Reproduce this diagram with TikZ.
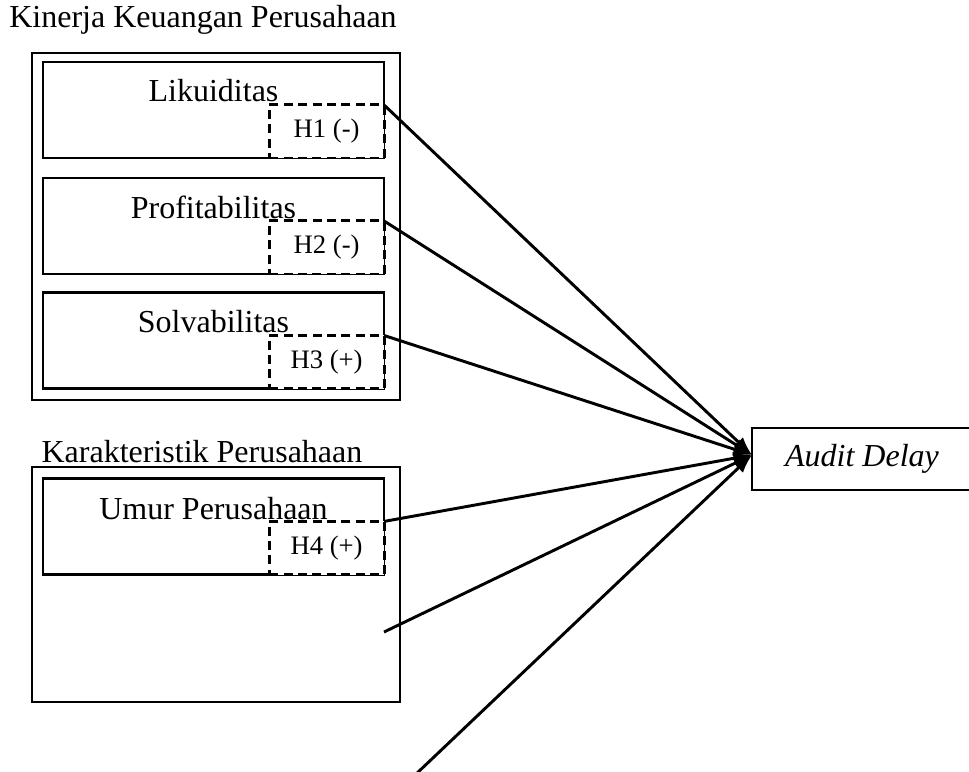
\documentclass[tikz,border=0pt]{standalone}
\usepackage{fontspec}
\setmainfont{Liberation Serif}
\usetikzlibrary{calc, positioning, arrows.meta}

\tikzset{
    groupbox/.style={draw, line width=0.7pt, inner sep=0pt, outer sep=0pt, minimum width=138pt},
    varbox/.style={draw, line width=1pt, inner sep=0pt, outer sep=0pt, minimum width=127.9pt, minimum height=36pt},
    hypbox/.style={draw, fill=white, line width=1.1pt, dash pattern=on 3.4pt off 2pt, inner sep=0pt, outer sep=0pt,
        minimum width=43.1pt, minimum height=19.9pt, anchor=south east, font=\fontsize{10}{12}\selectfont},
    link/.style={line width=1.1pt, -{Latex[length=7pt, width=5pt]}}
}

\begin{document}
\begin{tikzpicture}[x=0.375pt, y=-0.375pt, font=\fontsize{12}{14}\selectfont]
            \useasboundingbox (0, 0) rectangle (969, 772);
            % kinerja keuangan
            \node (kinerja) at (203, 20) {Kinerja Keuangan Perusahaan};
            \node[groupbox, minimum height=130.1pt] (kgroup) at (216, 226.5) {};
            \node[varbox] (liku) at (213.5, 110) {};
            \node[varbox] (profit) at (213.5, 226) {};
            \node[varbox] (solva) at (213.5, 340.5) {};
            \node[hypbox] (h1) at (liku.south east) {H1 (-)};
            \node[hypbox] (h2) at (profit.south east) {H2 (-)};
            \node[hypbox] (h3) at (solva.south east) {H3 (+)};
            \node (likutxt) at ($(liku.north) + (0, 29)$) {Likuiditas};
            \node (profittxt) at ($(profit.north) + (0, 29)$) {Profitabilitas};
            \node (solvatxt) at ($(solva.north) + (0, 29)$) {Solvabilitas};
            % karakteristik
            \node (karakter) at (202, 452) {Karakteristik Perusahaan};
            \node[groupbox, minimum height=88.1pt] (cgroup) at (216, 584.5) {};
            \node[varbox] (umur) at (213.5, 526.5) {};
            \node[hypbox] (h4) at (umur.south east) {H4 (+)};
            \node (umurtxt) at ($(umur.north) + (0, 30)$) {Umur Perusahaan};
            % dependent
            \node[draw, line width=0.8pt, minimum width=82.5pt, minimum height=23.25pt, inner sep=0pt, outer sep=0pt] (audit) at (862, 459) {\textit{Audit Delay}};
            \coordinate (tip) at ($(audit.west) + (0, -4)$);
            \coordinate (empty) at (384, 632);
            \coordinate (below) at (415, 775);
            \draw[link] (h1.north east) -- (tip);
            \draw[link] (h2.north east) -- (tip);
            \draw[link] (h3.north east) -- (tip);
            \draw[link] (h4.north east) -- (tip);
            \draw[link] (empty) -- (tip);
            \draw[link] (below) -- (tip);
        \end{tikzpicture}
\end{document}
